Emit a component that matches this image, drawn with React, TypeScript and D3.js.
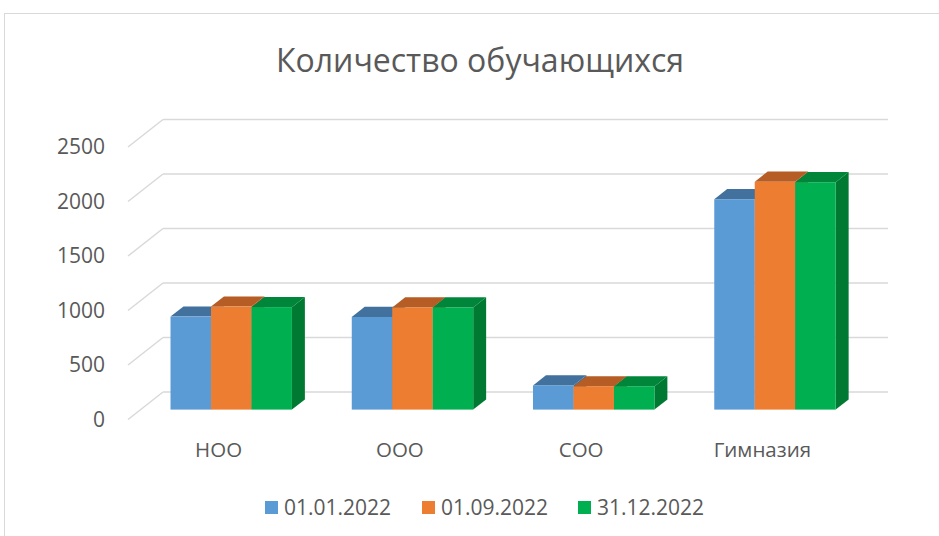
import * as d3 from 'd3';

const categories = ['НОО', 'ООО', 'СОО', 'Гимназия'];
const seriesNames = ['01.01.2022', '01.09.2022', '31.12.2022'];
const values01Jan = [853, 850, 222, 1930];
const values01Sep = [945, 937, 213, 2090];
const values31Dec = [940, 937, 213, 2086];
const yTicks = [0, 500, 1000, 1500, 2000, 2500];

const colors = ['#5b9bd5', '#ed7d31', '#00b050'];
const topColors = ['#41719c', '#b55d24', '#00863a'];
const sideColors = ['#3d6a94', '#ad5a21', '#007a33'];

const W = 939;
const H = 536;
const FONT = 'Open Sans, sans-serif';

// floor depth (front -> back wall)
const depthX = 35;
const depthY = -27.5;
// bar slab position along depth
const barFront = 0.36;
const barBack = 0.73;

export default function App() {
  const series = [values01Jan, values01Sep, values31Dec];

  const yBack = d3.scaleLinear().domain([0, 2500]).range([392, 119.5]);
  const yFront = (v: number) => yBack(v) - depthY;

  const xFront = d3.scaleBand<string>().domain(categories).range([128, 853]).padding(0);
  const groupWidth = xFront.bandwidth() * 0.67;
  const xInner = d3
    .scaleBand<number>()
    .domain(seriesNames.map((_, i) => i))
    .range([0, groupWidth])
    .padding(0);

  const wallLeft = 128 + depthX;
  const wallRight = 888;

  const pt = (x: number, y: number) => `${x},${y}`;

  const bars: JSX.Element[] = [];
  categories.forEach((cat, ci) => {
    const cx = (xFront(cat) ?? 0) + xFront.bandwidth() / 2 - groupWidth / 2;
    series.forEach((vals, si) => {
      const v = vals[ci];
      const x0 = cx + (xInner(si) ?? 0) + depthX * barFront;
      const x1 = x0 + xInner.bandwidth();
      const yb = yFront(0) + depthY * barFront;
      const yt = yFront(v) + depthY * barFront;
      const dx = depthX * (barBack - barFront);
      const dy = depthY * (barBack - barFront);
      bars.push(
        <g key={`${ci}-${si}`}>
          <polygon
            points={[pt(x1, yb), pt(x1 + dx, yb + dy), pt(x1 + dx, yt + dy), pt(x1, yt)].join(' ')}
            fill={sideColors[si]}
          />
          <polygon
            points={[pt(x0, yt), pt(x1, yt), pt(x1 + dx, yt + dy), pt(x0 + dx, yt + dy)].join(' ')}
            fill={topColors[si]}
          />
          <rect x={x0} y={yt} width={x1 - x0} height={yb - yt} fill={colors[si]} />
        </g>
      );
    });
  });

  const legendX = [265, 422, 578];

  return (
    <div style={{ position: 'absolute', left: 0, top: 0, width: W, height: H, background: '#fff' }}>
      <svg width={W} height={H} style={{ display: 'block' }}>
        <rect x={4.5} y={13.5} width={W} height={H} fill="#fff" stroke="#d9d9d9" strokeWidth={1} />

        <text x={480} y={72} textAnchor="middle" fontFamily={FONT} fontSize={32} fill="#595959">
          Количество обучающихся
        </text>

        {/* gridlines: side wall diagonals + back wall */}
        {yTicks.map((t) => (
          <g key={t}>
            <line
              x1={128}
              y1={yFront(t)}
              x2={wallLeft}
              y2={yBack(t)}
              stroke="#d9d9d9"
              strokeWidth={1.5}
            />
            <line
              x1={wallLeft}
              y1={yBack(t)}
              x2={wallRight}
              y2={yBack(t)}
              stroke="#d9d9d9"
              strokeWidth={1.5}
            />
            <text
              x={105}
              y={yFront(t)}
              dy="0.35em"
              textAnchor="end"
              fontFamily={FONT}
              fontSize={21}
              fill="#595959"
            >
              {t}
            </text>
          </g>
        ))}

        {bars}

        {categories.map((cat) => (
          <text
            key={cat}
            x={(xFront(cat) ?? 0) + xFront.bandwidth() / 2}
            y={457}
            textAnchor="middle"
            fontFamily={FONT}
            fontSize={20.5}
            fill="#595959"
          >
            {cat}
          </text>
        ))}

        {seriesNames.map((name, i) => (
          <g key={name}>
            <rect x={legendX[i]} y={501} width={13} height={13} fill={colors[i]} />
            <text x={legendX[i] + 19} y={515} fontFamily={FONT} fontSize={21} fill="#595959">
              {name}
            </text>
          </g>
        ))}
      </svg>
    </div>
  );
}
